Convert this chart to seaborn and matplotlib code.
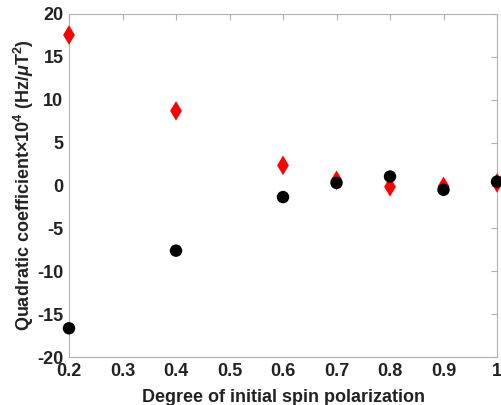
import matplotlib
matplotlib.use("Agg")
import matplotlib.pyplot as plt
import seaborn as sns
import pandas as pd

polarization = [0.2, 0.4, 0.6, 0.7, 0.8, 0.9, 1.0]
red_values = [17.55, 8.7, 2.35, 0.6, -0.15, -0.1, 0.3]
black_values = [-16.65, -7.6, -1.35, 0.3, 1.05, -0.5, 0.45]

sns.set_style("white")
plt.rcParams['font.family'] = ['Liberation Sans', 'DejaVu Sans']
plt.rcParams['mathtext.fontset'] = 'custom'
plt.rcParams['mathtext.rm'] = 'Liberation Sans:bold'
plt.rcParams['mathtext.it'] = 'Liberation Sans:italic:bold'
plt.rcParams['mathtext.bf'] = 'Liberation Sans:bold'

fig = plt.figure(figsize=(5.01, 4.05), dpi=100)
ax = fig.add_axes([69/501, 48/405, 428/501, 343/405])

df_red = pd.DataFrame({"x": polarization, "y": red_values})
df_black = pd.DataFrame({"x": polarization, "y": black_values})

sns.scatterplot(data=df_red, x="x", y="y", ax=ax, marker="d", s=100,
                color="#ff0000", edgecolor="none", linewidth=0, zorder=3,
                clip_on=False)
sns.scatterplot(data=df_black, x="x", y="y", ax=ax, marker="o", s=80,
                color="black", edgecolor="none", linewidth=0, zorder=4,
                clip_on=False)

ax.set_xlim(0.2, 1.0)
ax.set_ylim(-20, 20)
ax.set_xticks([0.2, 0.3, 0.4, 0.5, 0.6, 0.7, 0.8, 0.9, 1.0])
ax.set_xticklabels(["0.2", "0.3", "0.4", "0.5", "0.6", "0.7", "0.8", "0.9", "1"])
ax.set_yticks([-20, -15, -10, -5, 0, 5, 10, 15, 20])
ax.set_yticklabels(["-20", "-15", "-10", "-5", "0", "5", "10", "15", "20"])

for sp in ax.spines.values():
    sp.set_visible(True)
    sp.set_color("#b0b0b0")
    sp.set_linewidth(0.8)

ax.tick_params(axis='both', which='both', direction='in', length=4, width=0.8,
               color="#b0b0b0", top=True, right=True, labelsize=13,
               labelcolor="#222222")
ax.tick_params(axis='x', pad=4.5)
ax.tick_params(axis='y', pad=4)
for lab in ax.get_xticklabels() + ax.get_yticklabels():
    lab.set_fontweight('bold')

ax.set_xlabel("Degree of initial spin polarization", fontsize=13,
              fontweight='bold', color="#222222", labelpad=6)
ax.set_ylabel(r"Quadratic coefficient$\times$10$^4$ (Hz/$\mu$T$^2$)", fontsize=13,
              fontweight='bold', color="#222222", labelpad=0.5)

fig.savefig("out.png", dpi=100)
